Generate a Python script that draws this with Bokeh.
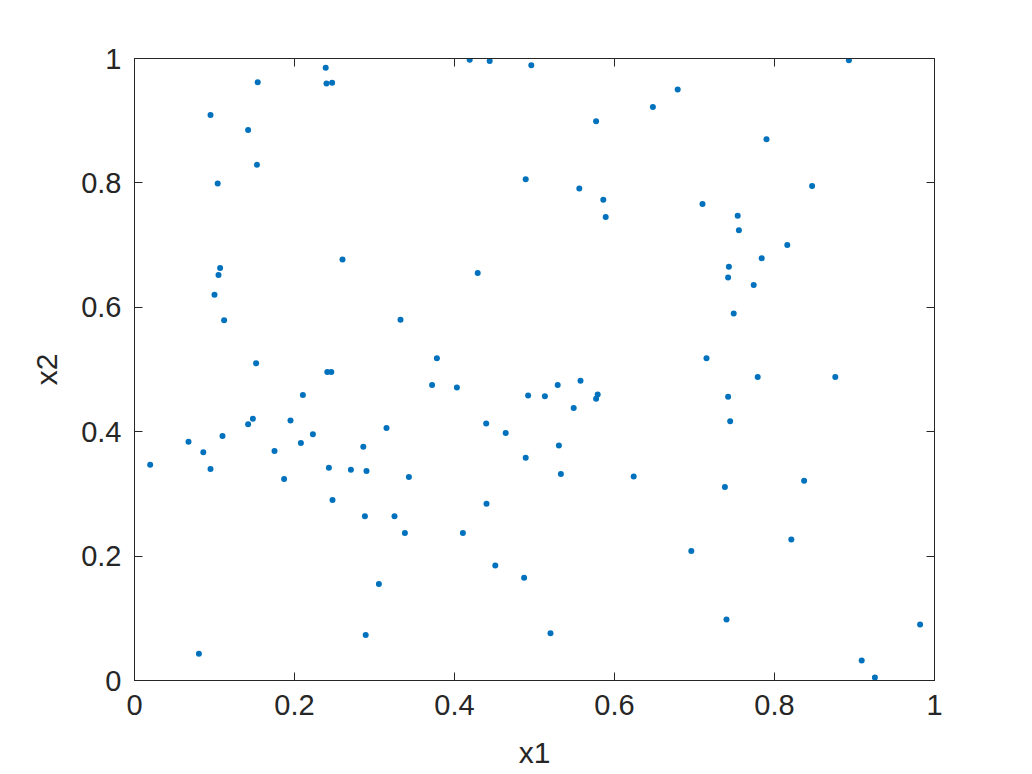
from bokeh.plotting import figure
from bokeh.models import LinearAxis, FixedTicker, CustomJSTickFormatter, Range1d
from bokeh.embed import file_html
from bokeh.resources import INLINE

x1 = [0.239, 0.154, 0.240, 0.247, 0.095, 0.142, 0.153, 0.104, 0.260, 0.107,
      0.105, 0.100, 0.112, 0.3325, 0.152,
      0.419, 0.444, 0.496, 0.648, 0.577, 0.489, 0.556, 0.586, 0.589, 0.429, 0.378,
      0.893, 0.679, 0.790, 0.847, 0.710, 0.754, 0.7555, 0.816, 0.784, 0.743,
      0.742, 0.774, 0.749, 0.715,
      0.241, 0.246, 0.2105, 0.148, 0.142, 0.195, 0.223, 0.0675, 0.110, 0.208,
      0.086, 0.175, 0.286, 0.315, 0.0196, 0.095, 0.187, 0.243, 0.2705, 0.290,
      0.2475, 0.288, 0.325, 0.3055, 0.289, 0.0805,
      0.372, 0.403, 0.529, 0.5575, 0.492, 0.513, 0.579, 0.577, 0.549, 0.4396,
      0.464, 0.5305, 0.489, 0.533, 0.343, 0.624, 0.440, 0.338, 0.4105, 0.451,
      0.487, 0.520,
      0.779, 0.876, 0.742, 0.7446, 0.837, 0.738, 0.821, 0.696, 0.740, 0.982,
      0.909, 0.9255]
x2 = [0.985, 0.962, 0.960, 0.961, 0.909, 0.885, 0.829, 0.799, 0.677, 0.663,
      0.652, 0.620, 0.579, 0.580, 0.510,
      0.998, 0.996, 0.989, 0.922, 0.899, 0.806, 0.791, 0.773, 0.745, 0.655, 0.518,
      0.997, 0.950, 0.870, 0.795, 0.766, 0.747, 0.724, 0.700, 0.679, 0.665,
      0.648, 0.636, 0.590, 0.518,
      0.496, 0.496, 0.459, 0.421, 0.412, 0.418, 0.396, 0.384, 0.393, 0.382,
      0.367, 0.369, 0.376, 0.406, 0.347, 0.340, 0.324, 0.342, 0.339, 0.337,
      0.290, 0.264, 0.264, 0.155, 0.073, 0.043,
      0.475, 0.471, 0.475, 0.482, 0.458, 0.457, 0.460, 0.453, 0.438, 0.413,
      0.398, 0.378, 0.358, 0.332, 0.327, 0.328, 0.284, 0.237, 0.237, 0.185,
      0.165, 0.076,
      0.488, 0.488, 0.456, 0.417, 0.321, 0.311, 0.2265, 0.208, 0.098, 0.090,
      0.032, 0.005]

ticks = [0, 0.2, 0.4, 0.6, 0.8, 1.0]
tick_labels = {0: "0", 0.2: "0.2", 0.4: "0.4", 0.6: "0.6", 0.8: "0.8", 1.0: "1"}

FONT = "Liberation Sans"
AX = "#262626"

p = figure(frame_width=800, frame_height=622,
           min_border_left=134, min_border_right=82,
           min_border_top=58, min_border_bottom=78,
           x_range=Range1d(0, 1), y_range=Range1d(0, 1),
           output_backend="svg", toolbar_location=None,
           background_fill_color="white", border_fill_color="white")
p.grid.visible = False
p.outline_line_color = AX
p.outline_line_width = 1

p.scatter(x1, x2, size=6, marker="circle", fill_color="#0072BD",
          line_color="#0072BD", line_width=0)

for ax, lab in ((p.xaxis[0], "x1"), (p.yaxis[0], "x2")):
    ax.ticker = FixedTicker(ticks=ticks)
    ax.major_label_overrides = tick_labels
    ax.axis_label = lab
    ax.axis_label_text_font = FONT
    ax.axis_label_text_font_size = "30px"
    ax.axis_label_text_font_style = "normal"
    ax.axis_label_text_color = AX
    ax.major_label_text_font = FONT
    ax.major_label_text_font_size = "29px"
    ax.major_label_text_color = AX
    ax.axis_line_color = AX
    ax.major_tick_line_color = AX
    ax.major_tick_in = 8
    ax.major_tick_out = 0
    ax.minor_tick_line_color = None

p.xaxis[0].major_label_standoff = 14
p.xaxis[0].axis_label_standoff = 18
p.yaxis[0].major_label_standoff = 13
p.yaxis[0].axis_label_standoff = 15

for side in ("right", "above"):
    a = LinearAxis(ticker=FixedTicker(ticks=ticks),
                   formatter=CustomJSTickFormatter(code="return ''"),
                   axis_line_color=AX, major_tick_line_color=AX,
                   major_tick_in=8, major_tick_out=0,
                   minor_tick_line_color=None,
                   major_label_text_font_size="1px")
    p.add_layout(a, side)

open("out.html", "w").write(file_html(p, INLINE))
